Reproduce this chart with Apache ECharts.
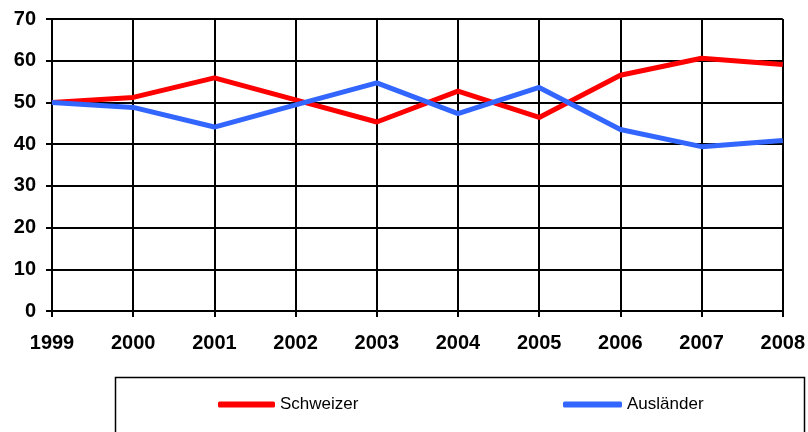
<!DOCTYPE html>
<html>
<head>
<meta charset="utf-8">
<script src="https://cdn.jsdelivr.net/npm/echarts@6/dist/echarts.min.js"></script>
<style>html,body{margin:0;padding:0;background:#fff}#c{width:808px;height:432px}</style>
</head>
<body>
<div id="c"></div>
<script>
var years = ['1999','2000','2001','2002','2003','2004','2005','2006','2007','2008'];
var schweizer = [50, 51.2, 55.9, 50.6, 45.3, 52.7, 46.4, 56.5, 60.6, 59.1];
var auslaender = [50, 48.8, 44.1, 49.4, 54.7, 47.3, 53.6, 43.5, 39.4, 40.9];
var seriesNames = ['Schweizer', 'Ausländer'];
var seriesColors = ['#ff0000', '#3366ff'];

var chart = echarts.init(document.getElementById('c'), null, {renderer: 'canvas'});
var legendText = {fontFamily: 'Liberation Sans, Arial', fontSize: 17, color: '#000'};
var tickFont = {color: '#000', fontFamily: 'Liberation Sans, Arial', fontWeight: 'bold', fontSize: 20};
chart.setOption({
  animation: false,
  backgroundColor: '#fff',
  grid: {left: 52, right: 22, top: 19, bottom: 121, containLabel: false},
  xAxis: {
    type: 'category',
    data: years,
    boundaryGap: false,
    axisLine: {lineStyle: {color: '#000', width: 2}},
    axisTick: {show: true, length: 6, lineStyle: {color: '#000', width: 2}},
    splitLine: {show: true, lineStyle: {color: '#000', width: 2}},
    axisLabel: Object.assign({margin: 22}, tickFont)
  },
  yAxis: {
    type: 'value',
    min: 0, max: 70, interval: 10,
    axisLine: {show: true, lineStyle: {color: '#000', width: 2}},
    axisTick: {show: true, length: 6, lineStyle: {color: '#000', width: 2}},
    splitLine: {show: true, lineStyle: {color: '#000', width: 2}},
    axisLabel: Object.assign({margin: 16}, tickFont)
  },
  legend: [
    {data: [seriesNames[0]], left: 213, top: 391, itemWidth: 57, itemHeight: 6, icon: 'roundRect', textStyle: legendText},
    {data: [seriesNames[1]], left: 558, top: 391, itemWidth: 59, itemHeight: 6, icon: 'roundRect', textStyle: legendText}
  ],
  graphic: [{
    type: 'rect', shape: {x: 115.5, y: 377.5, width: 689, height: 80},
    style: {fill: 'none', stroke: '#000', lineWidth: 1.5}, z: -1
  }],
  series: [
    {name: seriesNames[0], type: 'line', data: schweizer, symbol: 'none', lineStyle: {color: seriesColors[0], width: 5}, itemStyle: {color: seriesColors[0]}},
    {name: seriesNames[1], type: 'line', data: auslaender, symbol: 'none', lineStyle: {color: seriesColors[1], width: 5}, itemStyle: {color: seriesColors[1]}}
  ]
});
</script>
</body>
</html>
